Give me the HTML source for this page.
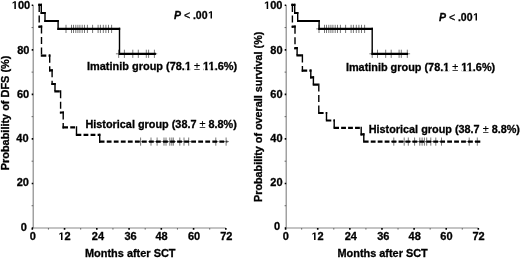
<!DOCTYPE html>
<html><head><meta charset="utf-8"><style>
html,body{margin:0;padding:0;background:#fff;}
body{width:520px;height:259px;overflow:hidden;}
svg{display:block;will-change:transform;}
text{font-family:"Liberation Sans", sans-serif;font-weight:bold;font-size:11px;fill:#000;stroke:#000;stroke-width:0.3px;}
</style></head><body>
<svg width="520" height="259" viewBox="0 0 520 259" xmlns="http://www.w3.org/2000/svg">
<path d="M33.2 5.3V228M32.6 228H225.84" stroke="#8a8a8a" stroke-width="1.2" fill="none"/>
<path d="M31.7 228H33.2M31.7 183.46H33.2M31.7 138.92H33.2M31.7 94.38H33.2M31.7 49.84H33.2M31.7 5.3H33.2M32.3 228V229.8M64.56 228V229.8M96.81 228V229.8M129.07 228V229.8M161.32 228V229.8M193.58 228V229.8M225.84 228V229.8" stroke="#000" stroke-width="1.6" fill="none"/>
<path d="M31.6 205.73H33.2M31.6 161.19H33.2M31.6 116.65H33.2M31.6 72.11H33.2M31.6 27.57H33.2M48.43 228V229.6M80.68 228V229.6M112.94 228V229.6M145.2 228V229.6M177.45 228V229.6M209.71 228V229.6" stroke="#666" stroke-width="1" fill="none"/>
<text x="30.15" y="8.9" text-anchor="end">00</text>
<path d="M478 0V1170L140 959V1180L493 1409H759V0Z" transform="translate(11.8,8.9) scale(0.005371,-0.005371)"/>
<text x="29.45" y="53.6" text-anchor="end">80</text>
<text x="29.15" y="98" text-anchor="end">60</text>
<text x="28.55" y="142.3" text-anchor="end">40</text>
<text x="28.9" y="186.3" text-anchor="end">20</text>
<text x="26.85" y="230.5" text-anchor="end">0</text>
<text x="32.7" y="240" text-anchor="middle">0</text>
<path d="M478 0V1170L140 959V1180L493 1409H759V0Z" transform="translate(58.43,240) scale(0.005371,-0.005371)"/>
<text x="64.55" y="240">2</text>
<text x="97.95" y="240" text-anchor="middle">24</text>
<text x="130.5" y="240" text-anchor="middle">36</text>
<text x="161.6" y="240" text-anchor="middle">48</text>
<text x="194.05" y="240" text-anchor="middle">60</text>
<text x="226.3" y="240" text-anchor="middle">72</text>
<text x="85" y="257" textLength="90.5" lengthAdjust="spacingAndGlyphs">Months after SCT</text>
<text transform="translate(9.2,112.95) rotate(-90)" text-anchor="middle" textLength="114.6" lengthAdjust="spacingAndGlyphs">Probability of DFS (%)</text>
<path d="M66 24.8V33M63.2 28.9H68.8M71.5 24.8V33M68.7 28.9H74.3M73.5 24.8V33M70.7 28.9H76.3M75.8 24.8V33M73 28.9H78.6M77.9 24.8V33M75.1 28.9H80.7M79.9 24.8V33M77.1 28.9H82.7M82.2 24.8V33M79.4 28.9H85M84.5 24.8V33M81.7 28.9H87.3M87.4 24.8V33M84.6 28.9H90.2M92.6 24.8V33M89.8 28.9H95.4M98.1 24.8V33M95.3 28.9H100.9M100.4 24.8V33M97.6 28.9H103.2M103.3 24.8V33M100.5 28.9H106.1M105.9 24.8V33M103.1 28.9H108.7M108.5 24.8V33M105.7 28.9H111.3M111.6 24.8V33M108.8 28.9H114.4M118.7 49.7V57.9M115.9 53.8H121.5M124.4 49.7V57.9M121.6 53.8H127.2M132.8 49.7V57.9M130 53.8H135.6M138.3 49.7V57.9M135.5 53.8H141.1M146.3 49.7V57.9M143.5 53.8H149.1M148.6 49.7V57.9M145.8 53.8H151.4M154.4 49.7V57.9M151.6 53.8H157.2M140.6 137.5V145.7M137.8 141.6H143.4M151 137.5V145.7M148.2 141.6H153.8M157.1 137.5V145.7M154.3 141.6H159.9M164 137.5V145.7M161.2 141.6H166.8M166 137.5V145.7M163.2 141.6H168.8M169.8 137.5V145.7M167 141.6H172.6M171.8 137.5V145.7M169 141.6H174.6M173.3 137.5V145.7M170.5 141.6H176.1M179.8 137.5V145.7M177 141.6H182.6M184 137.5V145.7M181.2 141.6H186.8M188.7 137.5V145.7M185.9 141.6H191.5M215.8 137.5V145.7M213 141.6H218.6M226.1 137.5V145.7M223.3 141.6H228.9" stroke="#777" stroke-width="1.0" fill="none"/>
<path d="M38.2 4.9H42M40.6 13H45.7M44.3 21H58.8M57.4 28.9H120.2M118.8 53.8H155.9M38.5 26.6H42.2M40.8 55.7H46.3M48.54 55.7H50.4M49 70.3H52.8M51.4 84H55.7M54.3 91.3H59.8M59.9 112.5H63.9M62.5 127.4H68M70.24 127.4H75.04M75.8 134.9H81.3M83.54 134.9H88.34M90.58 134.9H95.38M97.62 134.9H100.4M99 141.6H104.5M106.74 141.6H111.54M113.78 141.6H118.58M120.82 141.6H125.62M127.86 141.6H132.66M134.9 141.6H139.7M141.94 141.6H146.74M148.98 141.6H153.78M156.02 141.6H160.82M163.06 141.6H167.86M170.1 141.6H174.9M177.14 141.6H181.94M184.18 141.6H188.98M191.22 141.6H196.02M198.26 141.6H203.06M205.3 141.6H210.1M212.34 141.6H217.14M219.38 141.6H224.18M226.42 141.6H227.3" stroke="#000" stroke-width="2.2" fill="none"/>
<path d="M41.3 3.8V14.1M45 11.9V22.1M58.1 19.9V30M119.5 27.8V54.9M39.2 3.8V11.9M39.2 15.4V22.4M39.2 25.9V27.7M41.5 25.5V33.6M41.5 37.1V44.1M41.5 47.6V54.6M49.7 54.6V62.7M49.7 66.2V71.4M52.1 69.2V77.3M52.1 80.8V85.1M55 82.9V91M60.6 90.2V98.3M60.6 101.8V108.8M60.6 112.3V113.6M63.2 111.4V119.5M63.2 123V128.5M76.5 126.3V134.4M99.7 133.8V142.7" stroke="#000" stroke-width="1.4" fill="none"/>
<text y="18.55" style="font-size:10.5px"><tspan x="173.9" font-style="italic">P</tspan><tspan x="184.04" dy="0.7" font-weight="normal">&lt;</tspan><tspan x="192.9" dy="-0.7">.00</tspan></text>
<path d="M478 0V1170L140 959V1180L493 1409H759V0Z" transform="translate(208.1,18.55) scale(0.005127,-0.005127)"/>
<text class="lbl" x="87" y="70.4" textLength="150.2" lengthAdjust="spacingAndGlyphs">Imatinib group (78.1 <tspan font-weight="normal" stroke-width="0.15">±</tspan> 11.6%)</text>
<text class="lbl" x="85.4" y="128.1" textLength="151.5" lengthAdjust="spacingAndGlyphs">Historical group (38.7 <tspan font-weight="normal" stroke-width="0.15">±</tspan> 8.8%)</text>
<path d="M286.2 5.3V228M285.6 228H478.34" stroke="#8a8a8a" stroke-width="1.2" fill="none"/>
<path d="M284.7 228H286.2M284.7 183.46H286.2M284.7 138.92H286.2M284.7 94.38H286.2M284.7 49.84H286.2M284.7 5.3H286.2M285.6 228V229.8M317.72 228V229.8M349.85 228V229.8M381.97 228V229.8M414.1 228V229.8M446.22 228V229.8M478.34 228V229.8" stroke="#000" stroke-width="1.6" fill="none"/>
<path d="M284.6 205.73H286.2M284.6 161.19H286.2M284.6 116.65H286.2M284.6 72.11H286.2M284.6 27.57H286.2M301.66 228V229.6M333.79 228V229.6M365.91 228V229.6M398.03 228V229.6M430.16 228V229.6M462.28 228V229.6" stroke="#666" stroke-width="1" fill="none"/>
<text x="282.45" y="9.1" text-anchor="end">00</text>
<path d="M478 0V1170L140 959V1180L493 1409H759V0Z" transform="translate(264.1,9.1) scale(0.005371,-0.005371)"/>
<text x="282.6" y="53.6" text-anchor="end">80</text>
<text x="282.6" y="98" text-anchor="end">60</text>
<text x="282.6" y="142.3" text-anchor="end">40</text>
<text x="282.6" y="186.1" text-anchor="end">20</text>
<text x="280.05" y="229.6" text-anchor="end">0</text>
<text x="285.8" y="240" text-anchor="middle">0</text>
<path d="M478 0V1170L140 959V1180L493 1409H759V0Z" transform="translate(311.48,240) scale(0.005371,-0.005371)"/>
<text x="317.6" y="240">2</text>
<text x="350.75" y="240" text-anchor="middle">24</text>
<text x="383.25" y="240" text-anchor="middle">36</text>
<text x="414.65" y="240" text-anchor="middle">48</text>
<text x="446.45" y="240" text-anchor="middle">60</text>
<text x="478.55" y="240" text-anchor="middle">72</text>
<text x="337.5" y="257.2" textLength="90.25" lengthAdjust="spacingAndGlyphs">Months after SCT</text>
<text transform="translate(262,116.8) rotate(-90)" text-anchor="middle" textLength="170.4" lengthAdjust="spacingAndGlyphs">Probability of overall survival (%)</text>
<path d="M319 24.8V33M316.2 28.9H321.8M324.5 24.8V33M321.7 28.9H327.3M326.5 24.8V33M323.7 28.9H329.3M328.8 24.8V33M326 28.9H331.6M330.9 24.8V33M328.1 28.9H333.7M332.9 24.8V33M330.1 28.9H335.7M335.2 24.8V33M332.4 28.9H338M337.5 24.8V33M334.7 28.9H340.3M340.4 24.8V33M337.6 28.9H343.2M345.6 24.8V33M342.8 28.9H348.4M351.1 24.8V33M348.3 28.9H353.9M353.4 24.8V33M350.6 28.9H356.2M356.3 24.8V33M353.5 28.9H359.1M358.9 24.8V33M356.1 28.9H361.7M361.5 24.8V33M358.7 28.9H364.3M364.6 24.8V33M361.8 28.9H367.4M372.2 49.7V57.9M369.4 53.8H375M377.5 49.7V57.9M374.7 53.8H380.3M385.7 49.7V57.9M382.9 53.8H388.5M391.2 49.7V57.9M388.4 53.8H394M399.1 49.7V57.9M396.3 53.8H401.9M401.3 49.7V57.9M398.5 53.8H404.1M407.3 49.7V57.9M404.5 53.8H410.1M393.8 137.5V145.7M391 141.6H396.6M404.2 137.5V145.7M401.4 141.6H407M408.3 137.5V145.7M405.5 141.6H411.1M414.6 137.5V145.7M411.8 141.6H417.4M419.8 137.5V145.7M417 141.6H422.6M422.1 137.5V145.7M419.3 141.6H424.9M424.4 137.5V145.7M421.6 141.6H427.2M426.7 137.5V145.7M423.9 141.6H429.5M430.8 137.5V145.7M428 141.6H433.6M435.8 137.5V145.7M433 141.6H438.6M441.5 137.5V145.7M438.7 141.6H444.3M469.2 137.5V145.7M466.4 141.6H472M477.3 137.5V145.7M474.5 141.6H480.1" stroke="#777" stroke-width="1.0" fill="none"/>
<path d="M291.2 4.9H295.4M294 13H298.4M297 21H319.8M318.4 28.9H372.9M371.5 53.8H408.1M291.7 26.7H295.7M294.3 48.2H297.8M296.4 55.4H301.9M301.7 70.7H307.2M309.35 70.7H311.5M310.1 77.4H314.1M312.7 84.6H318.2M318.1 113H323.6M325.75 113H327.2M325.8 120.5H331.3M333.45 120.5H334.9M333.5 127.9H339M341.15 127.9H345.95M348.1 127.9H352.9M355.05 127.9H359.85M360.5 134.3H364.5M363.1 141.7H368.6M370.75 141.7H375.55M377.7 141.7H382.5M384.65 141.7H389.45M391.6 141.7H396.4M398.55 141.7H403.35M405.5 141.7H410.3M412.45 141.7H417.25M419.4 141.7H424.2M426.35 141.7H431.15M433.3 141.7H438.1M440.25 141.7H445.05M447.2 141.7H452M454.15 141.7H458.95M461.1 141.7H465.9M468.05 141.7H472.85M475 141.7H480.3" stroke="#000" stroke-width="2.2" fill="none"/>
<path d="M294.7 3.8V14.1M297.7 11.9V22.1M319.1 19.9V30M372.2 27.8V54.9M292.4 3.8V11.9M292.4 15.4V22.4M292.4 25.9V27.8M295 25.6V33.7M295 37.2V44.2M295 47.7V49.3M297.1 47.1V55.2M302.4 54.3V62.4M302.4 65.9V71.8M310.8 69.6V78.5M313.4 76.3V84.4M318.8 83.5V91.6M318.8 95.1V102.1M318.8 105.6V112.6M326.5 111.9V120M334.2 119.4V127.5M361.2 126.8V135.4M363.8 133.2V141.3" stroke="#000" stroke-width="1.4" fill="none"/>
<text y="20.55" style="font-size:10.5px"><tspan x="438.9" font-style="italic">P</tspan><tspan x="449.04" dy="0.7" font-weight="normal">&lt;</tspan><tspan x="457.9" dy="-0.7">.00</tspan></text>
<path d="M478 0V1170L140 959V1180L493 1409H759V0Z" transform="translate(473.1,20.55) scale(0.005127,-0.005127)"/>
<text class="lbl" x="345.9" y="70.5" textLength="149.3" lengthAdjust="spacingAndGlyphs">Imatinib group (78.1 <tspan font-weight="normal" stroke-width="0.15">±</tspan> 11.6%)</text>
<text class="lbl" x="368.7" y="132.6" textLength="151.3" lengthAdjust="spacingAndGlyphs">Historical group (38.7 <tspan font-weight="normal" stroke-width="0.15">±</tspan> 8.8%)</text>
<path fill="#fff" d="M185.44 68.1H186.97V71.3H185.44ZM189.47 68.1H190.84V71.3H189.47ZM203.64 68.1H205.16V71.3H203.64ZM207.66 68.1H209.04V71.3H207.66ZM209.13 68.1H210.65V71.3H209.13ZM213.15 68.1H214.53V71.3H213.15ZM443.76 68.2H445.27V71.4H443.76ZM447.76 68.2H449.13V71.4H447.76ZM461.84 68.2H463.35V71.4H461.84ZM465.85 68.2H467.22V71.4H465.85ZM467.29 68.2H468.81V71.4H467.29ZM471.3 68.2H472.67V71.4H471.3Z"/>
</svg>
</body></html>
